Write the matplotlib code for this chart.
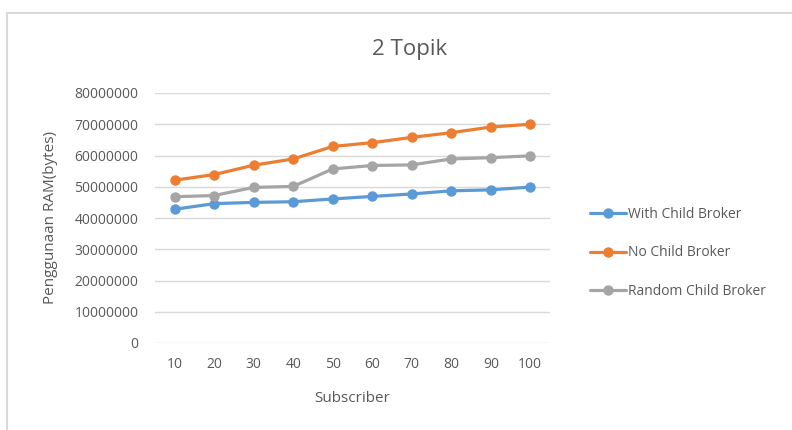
"""Line chart: RAM usage vs subscriber count, 2 topics."""

import matplotlib

matplotlib.use("Agg")
import matplotlib.pyplot as plt
from matplotlib.patches import Rectangle

plt.rcParams["font.family"] = ["Open Sans", "DejaVu Sans"]

subscribers = ["10", "20", "30", "40", "50", "60", "70", "80", "90", "100"]
with_child = [42.8e6, 44.6e6, 45.0e6, 45.2e6, 46.1e6, 46.9e6, 47.7e6, 48.7e6, 49.0e6, 49.9e6]
no_child = [52.1e6, 53.9e6, 56.9e6, 58.9e6, 62.9e6, 64.1e6, 65.8e6, 67.3e6, 69.1e6, 70.0e6]
random_child = [46.8e6, 47.2e6, 49.8e6, 50.1e6, 55.7e6, 56.8e6, 57.0e6, 58.9e6, 59.3e6, 59.9e6]
y_ticks = [0, 10e6, 20e6, 30e6, 40e6, 50e6, 60e6, 70e6, 80e6]

series = [
    ("With Child Broker", with_child, "#5B9BD5"),
    ("No Child Broker", no_child, "#ED7D31"),
    ("Random Child Broker", random_child, "#A5A5A5"),
]
text_color = "#595959"

fig = plt.figure(figsize=(7.92, 4.30), dpi=100)
# chart frame: left and top edges visible, right/bottom run off the image
fig.patches.append(Rectangle((7 / 792, -0.1), 1.2, 1 - 13 / 430 + 0.1, transform=fig.transFigure,
                             fill=False, edgecolor="#d9d9d9", linewidth=1.5))
ax = fig.add_axes([155 / 792, 1 - 343 / 430, 395 / 792, 250 / 430])

x = list(range(len(subscribers)))
for label, values, color in series:
    ax.plot(x, values, color=color, linewidth=2.3, marker="o", markersize=6.5, label=label,
            solid_capstyle="round")

ax.set_xlim(-0.5, len(subscribers) - 0.5)
ax.set_ylim(0, 80e6)
ax.set_yticks(y_ticks)
ax.set_yticklabels([f"{int(v)}" for v in y_ticks])
ax.set_xticks(x)
ax.set_xticklabels(subscribers)
ax.grid(axis="y", color="#d9d9d9", linewidth=1)
ax.set_axisbelow(True)
for spine in ax.spines.values():
    spine.set_visible(False)
ax.tick_params(axis="y", length=0, labelsize=10, colors=text_color, pad=12)
ax.tick_params(axis="x", length=0, labelsize=10, colors=text_color, pad=10)

ax.set_xlabel("Subscriber", fontsize=11, color=text_color, labelpad=14)
ax.set_ylabel("Penggunaan RAM(bytes)", fontsize=11, color=text_color, labelpad=12)
fig.text(410 / 792, 1 - 50 / 430, "2 Topik", ha="center", va="center", fontsize=16,
         color=text_color)

ax.legend(loc="center left", bbox_to_anchor=(1.07, 0.36), frameon=False,
          fontsize=10, labelcolor=text_color, handlelength=2.6, handletextpad=0.15,
          labelspacing=1.7)

fig.savefig("out.png", dpi=100)
